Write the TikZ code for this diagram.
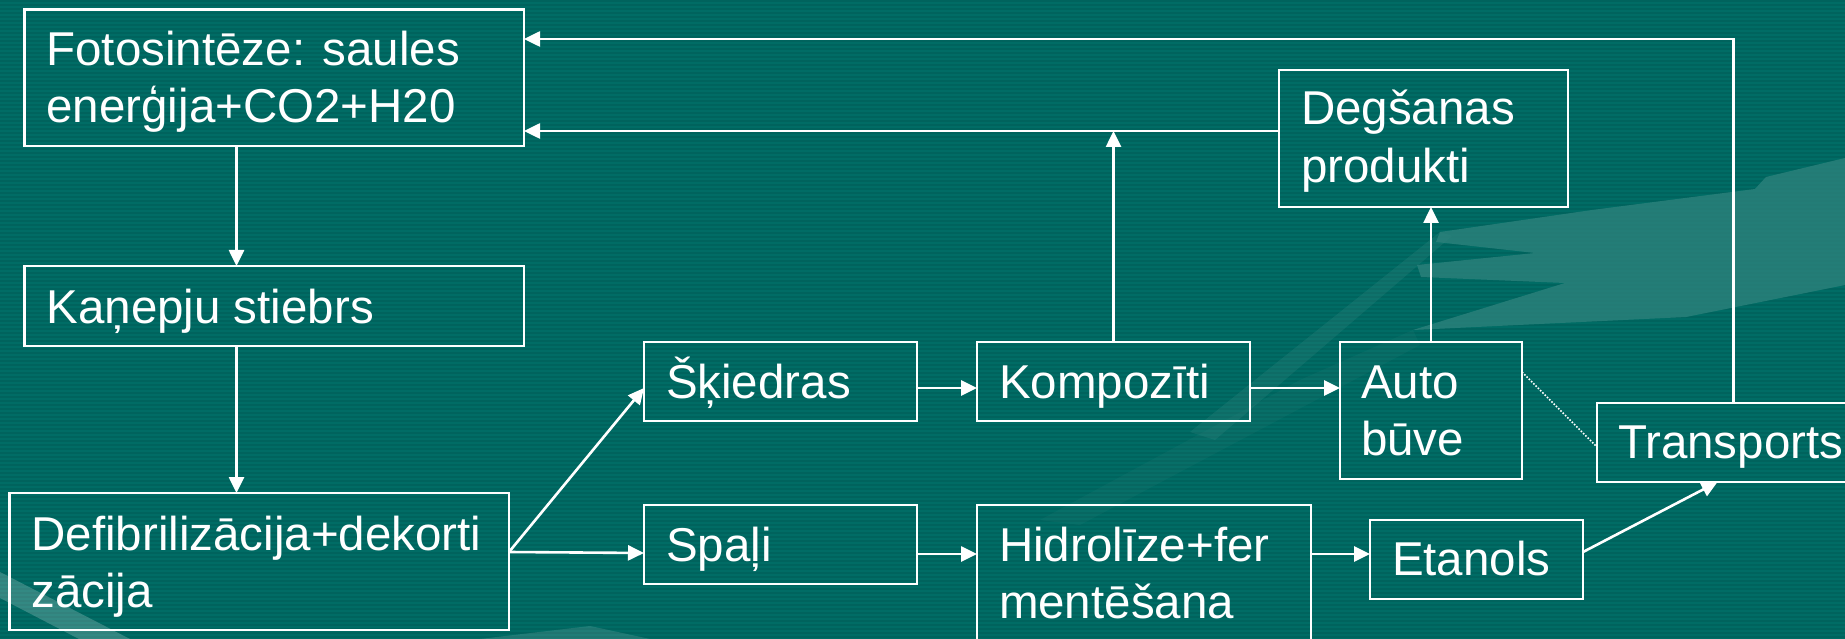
\documentclass[tikz,border=0pt]{standalone}
\usepackage{fontspec}
\setmainfont{Liberation Sans}
\usetikzlibrary{arrows.meta,calc}
\definecolor{bgA}{RGB}{0,108,101}
\definecolor{bgB}{RGB}{0,99,93}
\definecolor{swoosh}{RGB}{48,132,126}
\tikzset{
  box/.style={draw=white, line width=2.6pt, inner sep=0pt, outer sep=0pt, anchor=north west},
  txt/.style={text=white, anchor=base west, inner sep=0pt, outer sep=0pt, font=\fontsize{47.5}{57.5}\selectfont},
  arr/.style={draw=white, line width=2.6pt, -{Triangle[length=16pt,width=15pt]}},
  dotln/.style={draw=white, line width=1.6pt, dash pattern=on 1.6pt off 1.6pt},
}
\begin{document}
\begin{tikzpicture}[x=1pt,y=-1pt]
\useasboundingbox (0,0) rectangle (1845,639);
\clip (0,0) rectangle (1845,639);
% background
\fill[bgA] (0,0) rectangle (1845,639);
\foreach \i in {0,...,159} \fill[bgB] (0,\i*4) rectangle (1845,\i*4+2);
\fill[swoosh, opacity=0.75] (1845,158) -- (1766,177) -- (1755,189) -- (1592,210) -- (1440,232) -- (1436,242) -- (1535,253) -- (1417,265) -- (1421,277) -- (1565,283) -- (1413,330) -- (1686,317) -- (1845,285) -- cycle;
\fill[swoosh, opacity=0.3] (1190,432) -- (1440,232) -- (1452,236) -- (1215,440) -- cycle;
\fill[swoosh, opacity=0.15] (1040,520) -- (1300,380) -- (1413,330) -- (1420,345) -- (1080,525) -- cycle;
\fill[white, opacity=0.2] (0,572) -- (130,639) -- (79,639) -- (0,598) -- cycle;
\fill[white, opacity=0.12] (480,639) -- (590,626) -- (650,639) -- cycle;
% boxes
\node[box, minimum width=499.5pt, minimum height=136.7pt] (foto) at (24.5,9.3) {};
\node[box, minimum width=499.5pt, minimum height=80pt] (kan) at (24.5,266) {};
\node[box, minimum width=499.5pt, minimum height=137pt] (defib) at (9.5,493) {};
\node[box, minimum width=273pt, minimum height=79pt] (skied) at (644,342) {};
\node[box, minimum width=273pt, minimum height=79pt] (komp) at (977,342) {};
\node[box, minimum width=273pt, minimum height=79pt] (spali) at (644,505) {};
\node[box, minimum width=334pt, minimum height=137pt] (hidro) at (977,505) {};
\node[box, minimum width=182pt, minimum height=137pt] (auto) at (1340,342) {};
\node[box, minimum width=269pt, minimum height=79pt] (trans) at (1597,403) {};
\node[box, minimum width=213pt, minimum height=79pt] (etan) at (1370,520) {};
\node[box, minimum width=289pt, minimum height=137pt] (deg) at (1279,70) {};
% texts
\node[txt] (fotoT) at ($(foto.north west)+(22,56)$) {\begin{tabular}[t]{@{}l@{}}Fotosintēze: saules\\enerģija+CO2+H20\end{tabular}};
\node[txt] (kanT) at ($(kan.north west)+(22,57)$) {Kaņepju stiebrs};
\node[txt] (defibT) at ($(defib.north west)+(22,57)$) {\begin{tabular}[t]{@{}l@{}}Defibrilizācija+dekorti\\zācija\end{tabular}};
\node[txt] (skiedT) at ($(skied.north west)+(22,56)$) {Šķiedras};
\node[txt] (kompT) at ($(komp.north west)+(22,56)$) {Kompozīti};
\node[txt] (spaliT) at ($(spali.north west)+(22,56)$) {Spaļi};
\node[txt] (hidroT) at ($(hidro.north west)+(22,56)$) {\begin{tabular}[t]{@{}l@{}}Hidrolīze+fer\\mentēšana\end{tabular}};
\node[txt] (autoT) at ($(auto.north west)+(21,56)$) {\begin{tabular}[t]{@{}l@{}}Auto\\būve\end{tabular}};
\node[txt] (transT) at ($(trans.north west)+(21,55)$) {Transports};
\node[txt] (etanT) at ($(etan.north west)+(22,55)$) {Etanols};
\node[txt] (degT) at ($(deg.north west)+(22,55)$) {\begin{tabular}[t]{@{}l@{}}Degšanas\\produkti\end{tabular}};
% connectors
\draw[arr] ($(foto.south west)+(212,0)$) -- ($(kan.north west)+(212,0)$);
\draw[arr] ($(kan.south west)+(212,0)$) -- ($(defib.north west)+(227,0)$);
\draw[arr] ($(defib.north east)+(0,59)$) -- ($(skied.north west)+(0,46)$);
\draw[arr] ($(defib.north east)+(0,59)$) -- ($(spali.north west)+(0,48)$);
\draw[arr] ($(skied.north east)+(0,46)$) -- ($(komp.north west)+(0,46)$);
\draw[arr] ($(komp.north east)+(0,46)$) -- ($(auto.north west)+(0,46)$);
\draw[arr] ($(spali.north east)+(0,49)$) -- ($(hidro.north west)+(0,49)$);
\draw[arr] ($(hidro.north east)+(0,49)$) -- ($(etan.north west)+(0,34)$);
\draw[arr] ($(etan.north east)+(0,32)$) -- ($(trans.south west)+(120.5,0)$);
\coordinate (degL) at ($(deg.north west)+(0,61)$);
\draw[arr] (komp.north) -- (komp.north |- degL);
\draw[arr] (degL) -- (degL -| foto.east);
\draw[arr] (auto.north) -- (auto.north |- deg.south);
\draw[arr] ($(trans.north west)+(136.6,0)$) |- ($(foto.north east)+(0,29.7)$);
\draw[dotln] ($(auto.north east)+(0,30)$) -- ($(trans.north west)+(0,44)$);
\end{tikzpicture}
\end{document}
